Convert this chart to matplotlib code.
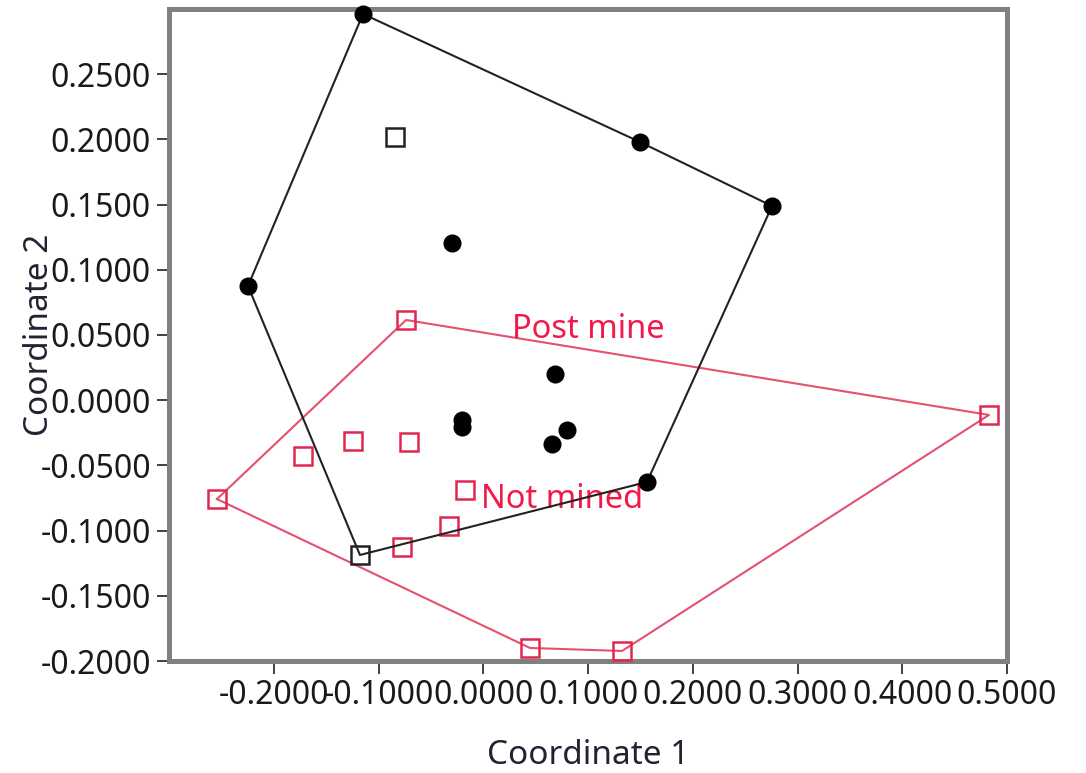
import numpy as np
import matplotlib
matplotlib.use("Agg")
import matplotlib.pyplot as plt
from matplotlib.ticker import FormatStrFormatter

# black group (hull drawn in black)
not_mined_dot_x = [-0.1148, 0.1496, 0.2757, -0.2246, -0.0298, 0.0685, -0.0203, -0.0203, 0.0800, 0.0656, 0.1563]
not_mined_dot_y = [0.2962, 0.1980, 0.1489, 0.0876, 0.1206, 0.0201, -0.0152, -0.0206, -0.0228, -0.0336, -0.0627]
not_mined_sq_x = [-0.0842, -0.1177]
not_mined_sq_y = [0.2018, -0.1187]

# red group
post_mine_x = [-0.0737, 0.4828, -0.2542, -0.1721, -0.1243, -0.0709, -0.0174, -0.0327, -0.0776, 0.0446, 0.1325]
post_mine_y = [0.0615, -0.0113, -0.0758, -0.0428, -0.0313, -0.0320, -0.0689, -0.0965, -0.1126, -0.1900, -0.1923]

x_ticks = [-0.2, -0.1, 0.0, 0.1, 0.2, 0.3, 0.4, 0.5]
y_ticks = [-0.2, -0.15, -0.1, -0.05, 0.0, 0.05, 0.1, 0.15, 0.2, 0.25]

RED = "#e0284f"
RED_LINE = "#e6506f"
FONT = "Noto Sans"


def convex_hull(xs, ys):
    pts = sorted(set(zip(xs, ys)))

    def cross(o, a, b):
        return (a[0] - o[0]) * (b[1] - o[1]) - (a[1] - o[1]) * (b[0] - o[0])

    lower, upper = [], []
    for p in pts:
        while len(lower) >= 2 and cross(lower[-2], lower[-1], p) <= 0:
            lower.pop()
        lower.append(p)
    for p in reversed(pts):
        while len(upper) >= 2 and cross(upper[-2], upper[-1], p) <= 0:
            upper.pop()
        upper.append(p)
    hull = lower[:-1] + upper[:-1]
    hull.append(hull[0])
    return [p[0] for p in hull], [p[1] for p in hull]


plt.rcParams["font.family"] = [FONT, "DejaVu Sans"]
fig = plt.figure(figsize=(10.86, 7.73), dpi=100)
ax = fig.add_axes([169 / 1086, 1 - 661 / 773, 838 / 1086, 652 / 773])

hx, hy = convex_hull(post_mine_x, post_mine_y)
ax.plot(hx, hy, color=RED_LINE, linewidth=1.5, zorder=2)
ax.plot(post_mine_x, post_mine_y, linestyle="none", marker="s", markersize=13,
        markerfacecolor="none", markeredgecolor=RED, markeredgewidth=1.8, zorder=3)

bx, by = convex_hull(not_mined_dot_x + not_mined_sq_x, not_mined_dot_y + not_mined_sq_y)
ax.plot(bx, by, color="#222222", linewidth=1.5, zorder=4)
ax.plot(not_mined_dot_x, not_mined_dot_y, linestyle="none", marker="o", markersize=12,
        color="black", zorder=5, clip_on=False)
ax.plot(not_mined_sq_x, not_mined_sq_y, linestyle="none", marker="s", markersize=13,
        markerfacecolor="none", markeredgecolor="#222222", markeredgewidth=1.8, zorder=5)

ax.text(0.0274, 0.0546, "Post mine", color="#f0194a", fontsize=23.5, ha="left", va="center")
ax.text(-0.0021, -0.0765, "Not mined", color="#f0194a", fontsize=23.5, ha="left", va="center")

ax.set_xlim(-0.3, 0.5)
ax.set_ylim(-0.2, 0.3)
ax.set_xticks(x_ticks)
ax.set_yticks(y_ticks)
ax.xaxis.set_major_formatter(FormatStrFormatter("%.4f"))
ax.yaxis.set_major_formatter(FormatStrFormatter("%.4f"))
ax.tick_params(axis="both", direction="out", length=9, width=1.3, color="#333333",
               labelsize=23, labelcolor="#1a1a1a", pad=4)
for spine in ax.spines.values():
    spine.set_color("#808080")
    spine.set_linewidth(3.6)

ax.set_xlabel("Coordinate 1", fontsize=24, color="#222233")
ax.set_ylabel("Coordinate 2", fontsize=24, color="#222233")
ax.xaxis.set_label_coords(0.5, -(755 - 661) / 652)
ax.xaxis.label.set_va("center")
ax.yaxis.set_label_coords(-(169 - 40) / 838, 0.5)
ax.yaxis.label.set_va("center")

fig.savefig("out.png", dpi=100, facecolor="white")
